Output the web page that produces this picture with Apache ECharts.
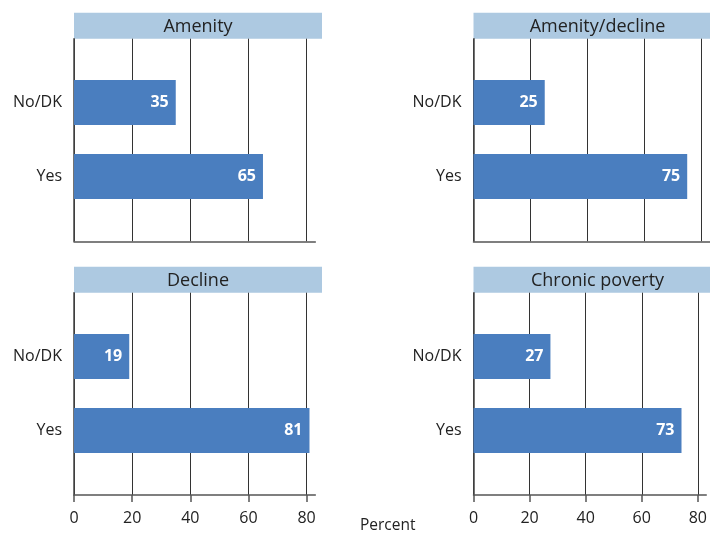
<!DOCTYPE html>
<html>
<head>
<meta charset="utf-8">
<script src="https://cdn.jsdelivr.net/npm/echarts@6/dist/echarts.min.js"></script>
<style>
  html, body { margin: 0; padding: 0; background: #ffffff; }
  #chart { width: 710px; height: 533px; }
</style>
</head>
<body>
<div id="chart"></div>
<script>
// ---- data ----
const categories = ['No/DK', 'Yes'];
const panelTitles = ['Amenity', 'Amenity/decline', 'Decline', 'Chronic poverty'];
const amenity = [35, 65];
const amenityDecline = [25, 75];
const decline = [19, 81];
const chronicPoverty = [27, 73];
const tickValues = [0, 20, 40, 60, 80];
const axisTitle = 'Percent';
const xMax = 83;

const seriesValues = [amenity, amenityDecline, decline, chronicPoverty];

// ---- layout ----
const FONT = '"Open Sans", "Noto Sans", sans-serif';
const W = 710, H = 533;
const panelLayout = [
  { left: 74,    plotWidth: 241.3, headerTop: 12.7,  frameTop: 38.7,  frameH: 202.6, bottomRow: false },
  { left: 473.5, plotWidth: 241.3, headerTop: 12.7,  frameTop: 38.7,  frameH: 202.6, bottomRow: false },
  { left: 74,    plotWidth: 241.3, headerTop: 266.7, frameTop: 292.7, frameH: 202.3, bottomRow: true },
  { left: 473.5, plotWidth: 241.3, headerTop: 266.7, frameTop: 292.7, frameH: 202.3, bottomRow: true }
];
const headerW = 248, headerH = 26;
const barBandTopOffset = 26.8, barBandH = 148;

const grids = [], xAxes = [], yAxes = [], series = [], graphics = [];

panelLayout.forEach((p, i) => {
  const right = W - (p.left + p.plotWidth);
  // frame grid (gridlines, axes)
  grids.push({ left: p.left, right: right, top: p.frameTop, bottom: H - (p.frameTop + p.frameH) });
  // bar grid
  const bTop = p.frameTop + barBandTopOffset;
  grids.push({ left: p.left, right: right, top: bTop, bottom: H - (bTop + barBandH) });

  const fi = 2 * i, bi = 2 * i + 1;
  xAxes.push({
    gridIndex: fi, type: 'value', min: 0, max: xMax, position: 'bottom',
    axisLine: { show: true, lineStyle: { color: '#555', width: 1.5 } },
    axisTick: { show: p.bottomRow, customValues: tickValues, length: 7, lineStyle: { color: '#555', width: 1.5 } },
    axisLabel: { show: p.bottomRow, customValues: tickValues, fontSize: 16, color: '#222', fontFamily: FONT, margin: 15 },
    splitLine: { show: true, lineStyle: { color: '#333', width: 1 } }
  });
  yAxes.push({
    gridIndex: fi, type: 'value', min: 0, max: 1,
    axisLine: { show: true, lineStyle: { color: '#444', width: 1.5 } },
    axisTick: { show: false }, axisLabel: { show: false }, splitLine: { show: false }
  });
  xAxes.push({ gridIndex: bi, type: 'value', min: 0, max: xMax, show: false, splitLine: { show: false } });
  yAxes.push({
    gridIndex: bi, type: 'category', data: categories, inverse: true,
    axisLine: { show: false }, axisTick: { show: false }, splitLine: { show: false },
    axisLabel: { fontSize: 16, color: '#222', fontFamily: FONT, margin: 12 }
  });

  series.push({
    type: 'bar', name: panelTitles[i], xAxisIndex: bi, yAxisIndex: bi,
    data: seriesValues[i], barWidth: 45,
    itemStyle: { color: '#4a7ebf' },
    label: { show: true, position: 'insideRight', distance: 7, color: '#ffffff',
             fontWeight: 'bold', fontSize: 16, fontFamily: FONT },
    z: 3
  });

  graphics.push({
    type: 'group', left: p.left, top: p.headerTop, z: 10,
    children: [
      { type: 'rect', shape: { x: 0, y: 0, width: headerW, height: headerH }, style: { fill: '#adc9e1' } },
      { type: 'text', x: headerW / 2, y: headerH / 2 + 1,
        style: { text: panelTitles[i], fill: '#222', font: '18px ' + FONT, align: 'center', verticalAlign: 'middle' } }
    ]
  });
});

graphics.push({
  type: 'text', left: 360, top: 518, z: 10,
  style: { text: axisTitle, fill: '#222', font: '15.5px ' + FONT }
});

const chart = echarts.init(document.getElementById('chart'), null, { renderer: 'canvas' });
chart.setOption({
  animation: false,
  backgroundColor: '#ffffff',
  grid: grids,
  xAxis: xAxes,
  yAxis: yAxes,
  series: series,
  graphic: graphics
});
</script>
</body>
</html>
